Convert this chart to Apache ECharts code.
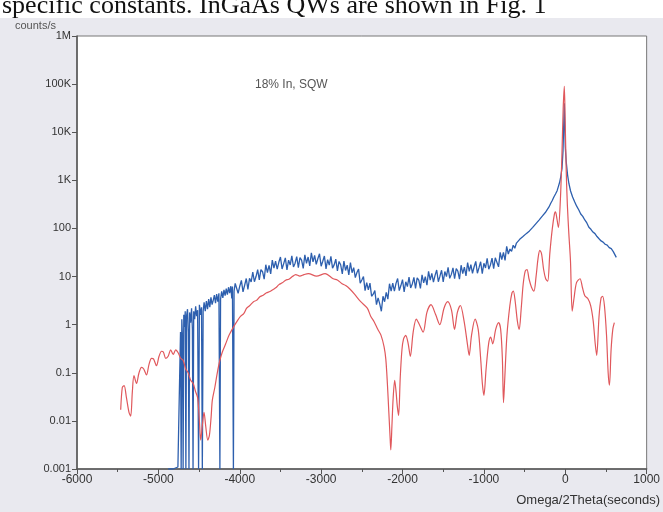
<!DOCTYPE html>
<html><head><meta charset="utf-8">
<script src="https://cdn.jsdelivr.net/npm/echarts@6/dist/echarts.min.js"></script>
<style>html,body{margin:0;padding:0;background:#fff;}#c{width:663px;height:512px;}</style>
</head><body><div id="c"></div>
<script>
// ---- data ----
const xTicks = [-6000, -5000, -4000, -3000, -2000, -1000, 0, 1000];
const yTickLabels = {'1000000':'1M','100000':'100K','10000':'10K','1000':'1K','100':'100','10':'10','1':'1','0.1':'0.1','0.01':'0.01','0.001':'0.001'};
const annotation = '18% In, SQW';
const xAxisTitle = 'Omega/2Theta(seconds)';
const yAxisTitle = 'counts/s';
const pageText = 'specific constants. InGaAs QWs are shown in Fig. 1';

// simulated curve (red): [omega/2theta seconds, counts/s]
const simulated = [
 [-5463,0.017],[-5443,0.05],[-5421,0.054],[-5392,0.03],[-5361,0.015],[-5340,0.0126],[-5320,0.04],[-5300,0.087],
 [-5269,0.06],[-5238,0.1],[-5207,0.13],[-5180,0.12],[-5146,0.09],[-5115,0.15],[-5084,0.2],[-5060,0.195],
 [-5023,0.14],[-4992,0.22],[-4961,0.28],[-4939,0.27],[-4910,0.2],[-4880,0.22],[-4849,0.3],[-4818,0.24],
 [-4787,0.3],[-4757,0.26],[-4726,0.2],[-4695,0.18],[-4664,0.12],[-4634,0.1],[-4603,0.07],[-4572,0.06],
 [-4542,0.04],[-4517,0.03],[-4496,0.01],[-4480,0.004],[-4460,0.008],[-4439,0.015],[-4419,0.008],[-4393,0.004],
 [-4373,0.005],[-4352,0.012],[-4337,0.027],[-4306,0.05],[-4276,0.1],[-4245,0.18],[-4214,0.27],[-4173,0.4],
 [-4132,0.6],[-4076,0.9],[-4030,1.2],[-3989,1.5],[-3951,1.7],[-3915,2.2],[-3876,2.5],[-3831,3.0],[-3794,3.2],
 [-3753,3.8],[-3712,4.1],[-3671,4.6],[-3630,4.9],[-3589,5.4],[-3553,5.9],[-3518,6.8],[-3477,7.4],[-3436,8.4],
 [-3397,8.8],[-3354,10],[-3313,11],[-3262,10.2],[-3210,11],[-3156,11.5],[-3057,10.2],[-2951,11.5],[-2852,9],
 [-2801,8.5],[-2747,7.2],[-2698,6.5],[-2647,5.5],[-2590,4.3],[-2514,3.0],[-2433,2.2],[-2391,1.5],[-2349,1.15],
 [-2304,0.8],[-2264,0.6],[-2227,0.35],[-2205,0.19],[-2186,0.06],[-2168,0.015],[-2151,0.004],[-2144,0.0025],
 [-2130,0.008],[-2115,0.03],[-2096,0.07],[-2079,0.04],[-2064,0.02],[-2048,0.013],[-2028,0.08],[-2007,0.3],
 [-1988,0.5],[-1961,0.6],[-1930,0.4],[-1904,0.22],[-1869,0.7],[-1831,1.3],[-1792,1.0],[-1746,0.7],[-1700,1.8],
 [-1650,2.6],[-1592,1.6],[-1542,1.0],[-1490,2.2],[-1445,3.0],[-1398,2.0],[-1361,0.8],[-1326,1.8],[-1289,2.5],
 [-1244,1.2],[-1203,0.4],[-1181,0.23],[-1152,0.6],[-1108,1.3],[-1070,0.8],[-1040,0.2],[-1019,0.06],[-1000,0.034],
 [-973,0.12],[-942,0.4],[-917,0.55],[-891,0.4],[-855,0.8],[-819,1.1],[-794,0.8],[-773,0.2],[-759,0.024],
 [-743,0.08],[-717,0.6],[-681,2.5],[-656,4.5],[-638,5.0],[-615,3.0],[-589,1.2],[-566,0.8],[-543,2.0],
 [-517,7],[-492,13],[-470,14],[-446,9],[-415,6],[-385,5],[-359,10],[-333,25],[-313,35],[-292,30],[-266,14],
 [-241,9],[-216,8],[-190,30],[-159,100],[-133,200],[-120,220],[-103,160],[-84,105],[-60,400],[-42,3000],
 [-26,30000],[-12,90000],[-2,20000],[12,1500],[26,300],[44,77],[64,21],[85,1.9],[107,3.5],[138,7.5],[181,9],
 [210,6],[240,4],[277,3.5],[312,2.5],[343,1.2],[368,0.4],[386,0.23],[415,1.5],[440,3.6],[458,3.9],[481,2.5],
 [507,0.6],[527,0.1],[543,0.055],[563,0.3],[584,0.8],[603,1.1]
];

// measured curve (blue): [omega/2theta seconds, counts/s]
const measured = [
 [-4880,0.001],[-4820,0.001],[-4760,0.0011],[-4740,0.001],[-4728,0.7],[-4720,0.001],[-4712,1.3],[-4703,0.5],
 [-4696,0.001],[-4688,1.6],[-4678,0.9],[-4670,1.9],[-4662,0.001],[-4654,1.5],[-4642,2.1],[-4632,0.7],
 [-4624,0.001],[-4616,1.8],[-4604,1.1],[-4592,2.2],[-4582,0.8],[-4574,0.001],[-4566,1.9],[-4554,1.3],
 [-4542,2.4],[-4530,1.5],[-4518,2.0],[-4506,0.001],[-4496,2.6],[-4482,1.6],[-4470,2.3],[-4460,0.001],
 [-4450,1.9],[-4438,2.9],[-4424,1.9],[-4410,3.1],[-4396,2.1],[-4382,3.4],[-4368,2.3],[-4354,3.7],[-4340,2.6],
 [-4326,3.2],[-4312,4.1],[-4298,2.8],[-4284,4.3],[-4270,3.0],[-4256,4.5],[-4244,0.001],[-4236,3.4],[-4222,4.9],
 [-4208,3.6],[-4194,5.3],[-4180,4.0],[-4166,5.6],[-4152,4.2],[-4138,6.0],[-4124,4.5],[-4110,6.3],[-4098,3.5],
 [-4090,6.2],[-4078,0.001],[-4070,5.0],[-4056,7.2],
 [-4040,6.6],[-4020,4.5],[-4000,6.3],[-3980,8.3],[-3960,4.8],[-3940,6.6],[-3920,9.1],[-3900,5.4],[-3880,9.2],
 [-3860,7.7],[-3840,12.4],[-3820,7.8],[-3800,10],[-3780,14],[-3760,8.5],[-3740,13.9],[-3720,12.6],[-3700,8.8],
 [-3680,17.6],[-3660,12.1],[-3640,17],[-3620,11.4],[-3600,22],[-3580,14.9],[-3560,21],[-3540,14.3],[-3520,19.8],
 [-3500,25.5],[-3480,14.4],[-3460,18.6],[-3440,24.4],[-3420,13.7],[-3400,22],[-3380,17.4],[-3360,26.9],
 [-3340,15.8],[-3320,19],[-3300,25.9],[-3280,15.4],[-3260,24.8],[-3240,22],[-3220,14.8],[-3200,28.3],
 [-3180,18.8],[-3160,25.5],[-3140,16.6],[-3120,31.2],[-3100,20.2],[-3080,27.5],[-3060,17.9],[-3040,23.7],
 [-3020,29.7],[-3000,16.4],[-2980,20.8],[-2960,26.7],[-2940,14.4],[-2920,22.4],[-2900,17.3],[-2880,26.2],
 [-2860,15],[-2840,17.5],[-2820,23],[-2800,13.1],[-2780,20.6],[-2760,17.6],[-2740,11.4],[-2720,21],
 [-2700,13.4],[-2680,17.2],[-2660,10.8],[-2640,19.6],[-2620,12],[-2600,15.3],[-2580,9.5],[-2560,12.1],
 [-2540,14.3],[-2520,7.3],[-2500,8.5],[-2480,10],[-2460,5.1],[-2440,7.5],[-2420,5.3],[-2400,7.3],[-2380,3.9],
 [-2360,4.3],[-2340,5.1],[-2320,2.6],[-2300,3.6],[-2280,2.7],[-2260,1.9],[-2240,3.9],[-2220,3.0],[-2200,4.7],
 [-2180,3.4],[-2160,7.1],[-2140,5.0],[-2120,7.3],[-2100,5.0],[-2080,7.2],[-2060,9.1],[-2040,5.1],[-2020,6.5],
 [-2000,8.6],[-1980,4.8],[-1960,7.8],[-1940,6.2],[-1920,9.7],[-1900,5.8],[-1880,7.0],[-1860,9.6],[-1840,5.7],
 [-1820,9.4],[-1800,8.4],[-1780,5.7],[-1760,10.9],[-1740,7.4],[-1720,10],[-1700,6.6],[-1680,12.8],[-1660,8.4],
 [-1640,11.6],[-1620,7.7],[-1600,10.6],[-1580,13.7],[-1560,7.8],[-1540,10.2],[-1520,13.5],[-1500,7.7],
 [-1480,12.7],[-1460,10],[-1440,15.6],[-1420,9.2],[-1400,11.1],[-1380,15.1],[-1360,9],[-1340,14.6],[-1320,13],
 [-1300,8.8],[-1280,17.2],[-1260,11.5],[-1240,15.7],[-1220,10.3],[-1200,19.5],[-1180,12.8],[-1160,17.6],
 [-1140,11.7],[-1120,16],[-1100,20.6],[-1080,11.7],[-1060,15.3],[-1040,20.3],[-1020,11.5],[-1000,18.9],
 [-980,15.1],[-960,23.9],[-940,14.2],[-920,17.4],[-900,24.2],[-880,14.6],[-860,24.6],[-840,22.6],[-820,15.9],
 [-800,31.9],[-780,22.4],[-760,31.9],[-740,21.7],[-720,42.6],[-700,29.4],[-680,37.4],[-660,33.3],[-640,44.8],
 [-620,38.7],[-600,49.7],[-580,46],[-560,59.4],[-540,54],[-520,68],[-500,63.9],[-480,78],[-460,74],[-440,89],
 [-420,87],[-400,105],[-380,106],[-360,126],[-340,127],[-320,151],[-300,155],[-280,182],[-260,197],[-240,220],
 [-220,250],[-200,280],[-180,330],[-160,380],[-140,450],[-120,520],[-100,610],[-85,740],[-70,900],[-55,1200],
 [-40,1800],[-28,4000],[-12,40000],[0,5000],[12,2400],[28,1300],[45,850],[65,600],[90,450],[115,360],[140,290],
 [165,245],[190,200],[215,178],[240,150],[265,130],[290,106],[315,96],[340,84],[365,78],[390,68],[415,61],
 [440,55],[465,52],[490,47],[515,45],[540,40],[565,38],[590,33],[610,31],[627,25]
];

const chart = echarts.init(document.getElementById('c'), null, {renderer:'canvas'});
const axisCol = '#555';
chart.setOption({
  animation:false,
  backgroundColor:'#e9e9ef',
  grid:{left:77, right:5, top:36, bottom:43, show:true, backgroundColor:'#ffffff', borderColor:'#777', borderWidth:1},
  graphic:[
    {type:'rect', shape:{x:0,y:0,width:663,height:18}, style:{fill:'#ffffff'}, z:-1},
    {type:'text', x:2, y:19, style:{text:pageText, font:'26px "Liberation Serif"', fill:'#111', verticalAlign:'bottom'}},
    {type:'text', x:15, y:26, style:{text:yAxisTitle, font:'11px "Liberation Sans"', fill:'#555', verticalAlign:'middle'}},
    {type:'text', x:255, y:85, style:{text:annotation, font:'12px "Liberation Sans"', fill:'#555', verticalAlign:'middle'}},
    {type:'text', x:660, y:500, style:{text:xAxisTitle, font:'13px "Liberation Sans"', fill:'#333', align:'right', verticalAlign:'middle'}}
  ],
  xAxis:{type:'value', min:-6000, max:1000, interval:1000,
    axisLine:{show:true, onZero:false, lineStyle:{color:axisCol, width:1.5}},
    axisTick:{show:true, length:5, lineStyle:{color:axisCol}},
    minorTick:{show:true, splitNumber:2, length:3, lineStyle:{color:axisCol}},
    splitLine:{show:false},
    axisLabel:{color:'#333', fontSize:12, fontFamily:'Liberation Sans', margin:5, formatter:v=>String(v)}},
  yAxis:{type:'log', logBase:10, min:0.001, max:1000000, splitNumber:9,
    axisLine:{show:true, onZero:false, lineStyle:{color:axisCol, width:1.5}},
    axisTick:{show:true, length:5, lineStyle:{color:axisCol}},
    splitLine:{show:false},
    axisLabel:{color:'#333', fontSize:11, fontFamily:'Liberation Sans', margin:6,
      formatter:v=>{const k=String(+v.toPrecision(3)); return yTickLabels[k]!==undefined?yTickLabels[k]:'';}}},
  series:[
    {name:'measured', type:'line', data:measured, showSymbol:false, symbol:'none', z:2,
      lineStyle:{color:'#2d5fae', width:1.3}},
    {name:'simulated', type:'line', data:simulated, showSymbol:false, symbol:'none', smooth:0.3, z:3,
      lineStyle:{color:'#e0585c', width:1.2}}
  ]
});
</script></body></html>
